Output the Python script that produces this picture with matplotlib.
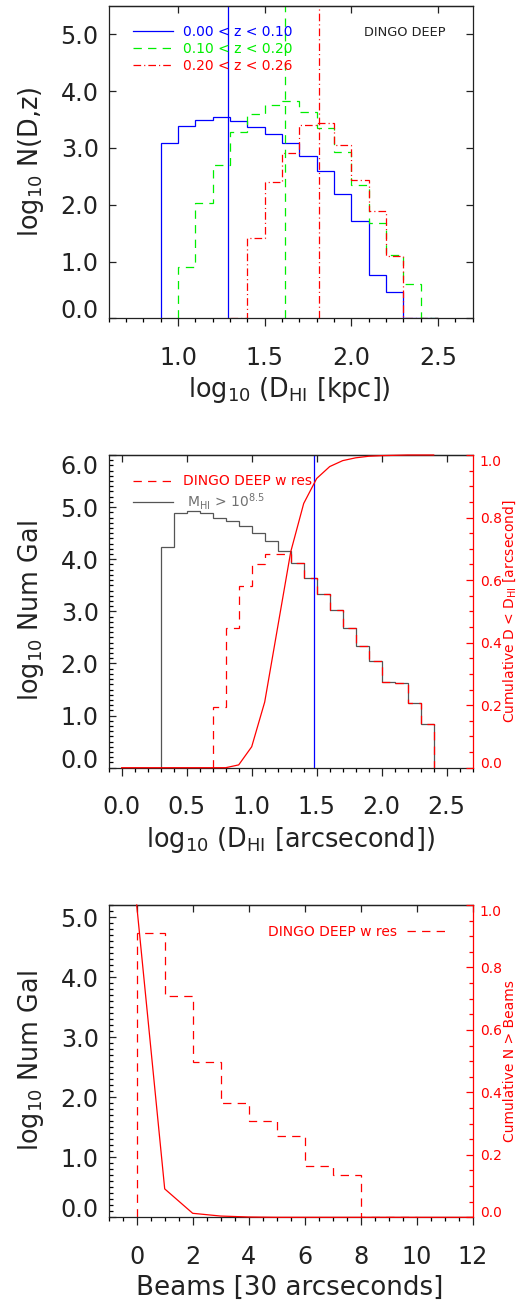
import numpy as np
import matplotlib
matplotlib.use("Agg")
import matplotlib.pyplot as plt
from matplotlib.lines import Line2D
from matplotlib.ticker import MultipleLocator, FixedLocator, NullLocator, FormatStrFormatter

plt.rcParams['font.family'] = ['DejaVu Sans']
plt.rcParams['mathtext.default'] = 'regular'
plt.rcParams['lines.scale_dashes'] = False
plt.rcParams['axes.linewidth'] = 0.9

# ---------------- data ----------------
# Panel 1: log10 N(D,z) vs log10 D_HI [kpc]
p1_blue_edges = [0.9, 1.0, 1.1, 1.2, 1.3, 1.4, 1.5, 1.6, 1.7, 1.8, 1.9, 2.0, 2.1, 2.2, 2.3, 2.4, 2.5]
p1_blue_vals = [3.08, 3.38, 3.50, 3.54, 3.47, 3.37, 3.24, 3.09, 2.86, 2.59, 2.19, 1.71, 0.77, 0.47, 0.0, 0.0]
p1_green_edges = [1.0, 1.1, 1.2, 1.3, 1.4, 1.5, 1.6, 1.7, 1.8, 1.9, 2.0, 2.1, 2.2, 2.3, 2.4, 2.5]
p1_green_vals = [0.90, 2.03, 2.70, 3.28, 3.59, 3.76, 3.82, 3.64, 3.35, 2.93, 2.34, 1.68, 1.11, 0.60, 0.0]
p1_red_edges = [1.3, 1.4, 1.5, 1.6, 1.7, 1.8, 1.9, 2.0, 2.1, 2.2, 2.3, 2.4, 2.5]
p1_red_vals = [0.0, 1.42, 2.40, 2.91, 3.41, 3.44, 3.06, 2.44, 1.89, 1.09, 0.0, 0.0]
p1_medians = [1.29, 1.617, 1.814]
p1_labels = ['0.00 < z < 0.10', '0.10 < z < 0.20', '0.20 < z < 0.26']
p1_xticks = [1.0, 1.5, 2.0, 2.5]
p1_yticks = [0, 1, 2, 3, 4, 5]

# Panel 2: log10 Num Gal vs log10 D_HI [arcsecond]
p2_all_edges = [0.3, 0.4, 0.5, 0.6, 0.7, 0.8, 0.9, 1.0, 1.1, 1.2, 1.3, 1.4, 1.5, 1.6, 1.7,
                1.8, 1.9, 2.0, 2.1, 2.2, 2.3, 2.4]
p2_all_vals = [4.23, 4.88, 4.93, 4.89, 4.80, 4.73, 4.63, 4.50, 4.35, 4.15, 3.92, 3.64, 3.34,
               3.03, 2.69, 2.34, 2.05, 1.64, 1.62, 1.25, 0.84]
p2_res_edges = [0.7, 0.8, 0.9, 1.0, 1.1, 1.2, 1.3, 1.4, 1.5, 1.6, 1.7, 1.8, 1.9, 2.0, 2.1,
                2.2, 2.3, 2.4]
p2_res_vals = [1.16, 2.69, 3.49, 3.90, 4.10, 4.11, 3.92, 3.64, 3.34, 3.03, 2.69, 2.34, 2.05,
               1.64, 1.62, 1.25, 0.84]
p2_cum_x = [0.0, 0.1, 0.2, 0.3, 0.4, 0.5, 0.6, 0.7, 0.8, 0.9, 1.0, 1.1, 1.2, 1.3, 1.4, 1.5,
            1.6, 1.7, 1.8, 1.9, 2.0, 2.1, 2.2, 2.3, 2.4]
p2_cum_y = [0.0, 0.0, 0.0, 0.0, 0.0, 0.0, 0.0, 0.0, 0.0, 0.009, 0.067, 0.21, 0.45, 0.69, 0.845,
            0.925, 0.963, 0.982, 0.991, 0.996, 0.998, 0.999, 1.0, 1.0, 1.0]
p2_resolution = 1.48
p2_labels = ['DINGO DEEP w res', ' M$_{HI}$ > 10$^{8.5}$']
p2_xticks = [0.0, 0.5, 1.0, 1.5, 2.0, 2.5]
p2_yticks = [0, 1, 2, 3, 4, 5, 6]

# Panel 3: log10 Num Gal vs Beams
p3_edges = [0, 1, 2, 3, 4, 5, 6, 7, 8, 9, 10]
p3_vals = [4.74, 3.68, 2.58, 1.90, 1.61, 1.36, 0.86, 0.71, 0.0, 0.0]
p3_cum_x = [0, 1, 2, 3, 4, 5, 6, 7, 8, 9, 10, 11, 12]
p3_cum_y = [1.0, 0.091, 0.0128, 0.004, 0.001, 0.0, 0.0, 0.0, 0.0, 0.0, 0.0, 0.0, 0.0]
p3_xticks = [0, 2, 4, 6, 8, 10, 12]
p3_yticks = [0, 1, 2, 3, 4, 5]
cum_ticks = [0.0, 0.2, 0.4, 0.6, 0.8, 1.0]

# ---------------- styles ----------------
W, H = 526, 1302
BLUE, GREEN, RED, GREY = '#0000ff', '#00ee00', '#ff0000', '#555555'
TXT = '#222222'
LW = 0.9
DASH = (0, (6.0, 4.5))
DASHDOT = (0, (5.5, 2.2, 0.8, 2.2))
TICK_FS = 17.2
LAB_FS = 18.4
SMALL_FS = 10

fig = plt.figure(figsize=(W / 100, H / 100), dpi=100)


def px_axes(left, top, right, bottom):
    return fig.add_axes([left / W, 1 - bottom / H, (right - left) / W, (bottom - top) / H])


def style_axes(ax, xticks, xminor, yticks, yminor):
    ax.xaxis.set_major_locator(FixedLocator(xticks))
    ax.xaxis.set_minor_locator(MultipleLocator(xminor))
    ax.yaxis.set_major_locator(FixedLocator(yticks))
    if yminor:
        ax.yaxis.set_minor_locator(MultipleLocator(yminor))
    else:
        ax.yaxis.set_minor_locator(NullLocator())
    ax.yaxis.set_major_formatter(FormatStrFormatter('%.1f'))
    ax.tick_params(axis='x', which='major', direction='out', length=5.8, width=0.9,
                   top=False, labelsize=TICK_FS, pad=14.0, colors=TXT)
    ax.tick_params(axis='x', which='minor', direction='out', length=2.9, width=0.9, top=False)
    ax.tick_params(axis='y', which='major', direction='in', length=5.2, width=0.9,
                   labelsize=TICK_FS, pad=7.2, colors=TXT)
    ax.tick_params(axis='y', which='minor', direction='in', length=2.6, width=0.9)
    for s in ax.spines.values():
        s.set_color(TXT)
    sec = ax.secondary_xaxis('top')
    sec.xaxis.set_major_locator(FixedLocator(xticks))
    sec.xaxis.set_minor_locator(NullLocator())
    sec.tick_params(axis='x', which='major', direction='in', length=5.2, width=0.9,
                    labeltop=False, colors=TXT)
    sec.spines['top'].set_color(TXT)
    return sec


def fix_edge_labels(axis, first_va=None, last_va=None):
    ticks = axis.get_major_ticks()
    if first_va:
        ticks[0].label1.set_verticalalignment(first_va)
        ticks[0].label2.set_verticalalignment(first_va)
    if last_va:
        ticks[-1].label1.set_verticalalignment(last_va)
        ticks[-1].label2.set_verticalalignment(last_va)


def add_twin(ax):
    ax.spines['right'].set_visible(False)
    ax.tick_params(axis='y', which='both', right=False)
    tw = ax.twinx()
    tw.set_ylim(0, 1.0)
    tw.yaxis.set_major_locator(FixedLocator(cum_ticks))
    tw.yaxis.set_minor_locator(MultipleLocator(0.05))
    tw.yaxis.set_major_formatter(FormatStrFormatter('%.1f'))
    tw.tick_params(axis='y', which='major', direction='in', length=5.2, width=0.9,
                   labelsize=SMALL_FS, pad=5.0, colors=RED)
    tw.tick_params(axis='y', which='minor', direction='in', length=2.6, width=0.9, colors=RED)
    for k in ('left', 'top', 'bottom'):
        tw.spines[k].set_visible(False)
    tw.spines['right'].set_color(RED)
    return tw


# ================= Panel 1 =================
ax1 = px_axes(108.7, 6.0, 472.7, 318.3)
ax1.set_xlim(0.6, 2.7)
ax1.set_ylim(0, 5.5)
style_axes(ax1, p1_xticks, 0.1, p1_yticks, None)
ax1.tick_params(axis='y', which='major', right=True)
ax1.stairs(p1_blue_vals, p1_blue_edges, baseline=0, color=BLUE, lw=LW)
ax1.stairs(p1_green_vals, p1_green_edges, baseline=0, color=GREEN, lw=LW, linestyle=DASH)
ax1.stairs(p1_red_vals, p1_red_edges, baseline=0, color=RED, lw=LW, linestyle=DASHDOT)
l1 = ax1.axvline(p1_medians[0], color=BLUE, lw=LW)
l2 = ax1.axvline(p1_medians[1], color=GREEN, lw=LW, linestyle=DASH)
l3 = ax1.axvline(p1_medians[2], color=RED, lw=LW, linestyle=DASHDOT)
leg1 = ax1.legend([l1, l2, l3], p1_labels, loc='upper left',
                  bbox_to_anchor=(133 / W, 1 - 25 / H), bbox_transform=fig.transFigure,
                  frameon=False, fontsize=SMALL_FS, handlelength=2.9, handletextpad=0.72,
                  labelspacing=0.2, borderpad=0, borderaxespad=0)
for t, c in zip(leg1.get_texts(), [BLUE, GREEN, RED]):
    t.set_color(c)
fig.text(364 / W, 1 - 33 / H, 'DINGO DEEP', fontsize=9.3, color=TXT, ha='left', va='center')
fix_edge_labels(ax1.yaxis, first_va='baseline')
fig.text(289 / W, 1 - 390 / H, 'log$_{10}$ (D$_{HI}$ [kpc])', fontsize=LAB_FS, color=TXT,
         ha='center', va='center')
fig.text(31 / W, 1 - 162 / H, 'log$_{10}$ N(D,z)', fontsize=LAB_FS, color=TXT,
         ha='center', va='center', rotation=90)

# ================= Panel 2 =================
ax2 = px_axes(108.7, 455.0, 472.7, 767.7)
ax2.set_xlim(-0.1, 2.7)
ax2.set_ylim(0, 6.0)
style_axes(ax2, p2_xticks, 0.1, p2_yticks, 0.1)
tw2 = add_twin(ax2)
ax2.stairs(p2_all_vals, p2_all_edges, baseline=0, color=GREY, lw=LW)
ax2.stairs(p2_res_vals, p2_res_edges, baseline=0, color=RED, lw=LW, linestyle=DASH)
ax2.axvline(p2_resolution, color=BLUE, lw=LW)
tw2.plot(p2_cum_x, p2_cum_y, color=RED, lw=LW, clip_on=False)
h_res = Line2D([], [], color=RED, lw=LW, linestyle=DASH)
h_all = Line2D([], [], color=GREY, lw=LW)
leg2 = tw2.legend([h_res, h_all], p2_labels, loc='upper left',
                  bbox_to_anchor=(133 / W, 1 - 474.5 / H), bbox_transform=fig.transFigure,
                  frameon=False, fontsize=SMALL_FS, handlelength=2.9, handletextpad=0.72,
                  labelspacing=0.2, borderpad=0, borderaxespad=0)
leg2.get_texts()[0].set_color(RED)
leg2.get_texts()[1].set_color('#707070')
fix_edge_labels(ax2.yaxis, first_va='baseline', last_va='top')
fix_edge_labels(tw2.yaxis, first_va='baseline', last_va='top')
fig.text(290 / W, 1 - 840 / H, 'log$_{10}$ (D$_{HI}$ [arcsecond])', fontsize=LAB_FS,
         color=TXT, ha='center', va='center')
fig.text(31 / W, 1 - 611 / H, 'log$_{10}$ Num Gal', fontsize=LAB_FS, color=TXT,
         ha='center', va='center', rotation=90)
fig.text(510 / W, 1 - 611 / H, 'Cumulative D < D$_{HI}$ [arcsecond]', fontsize=SMALL_FS,
         color=RED, ha='center', va='center', rotation=90)

# ================= Panel 3 =================
ax3 = px_axes(108.7, 905.0, 472.7, 1217.3)
ax3.set_xlim(-1, 12)
ax3.set_ylim(0, 5.2)
style_axes(ax3, p3_xticks, 0.5, p3_yticks, 0.1)
ax3.xaxis.set_major_formatter(FormatStrFormatter('%d'))
tw3 = add_twin(ax3)
ax3.stairs(p3_vals, p3_edges, baseline=0, color=RED, lw=LW, linestyle=DASH)
tw3.plot(p3_cum_x, p3_cum_y, color=RED, lw=LW, clip_on=False)
h3 = Line2D([], [], color=RED, lw=LW, linestyle=DASH)
leg3 = tw3.legend([h3], ['DINGO DEEP w res'], loc='upper right', markerfirst=False,
                  bbox_to_anchor=(447 / W, 1 - 924.5 / H), bbox_transform=fig.transFigure,
                  frameon=False, fontsize=SMALL_FS, handlelength=2.9, handletextpad=0.72,
                  borderpad=0, borderaxespad=0)
leg3.get_texts()[0].set_color(RED)
fix_edge_labels(ax3.yaxis, first_va='baseline')
fix_edge_labels(tw3.yaxis, first_va='baseline', last_va='top')
fig.text(290 / W, 1 - 1288 / H, 'Beams [30 arcseconds]', fontsize=LAB_FS + 0.4, color=TXT,
         ha='center', va='center')
fig.text(31 / W, 1 - 1061 / H, 'log$_{10}$ Num Gal', fontsize=LAB_FS, color=TXT,
         ha='center', va='center', rotation=90)
fig.text(510 / W, 1 - 1061 / H, 'Cumulative N > Beams', fontsize=SMALL_FS, color=RED,
         ha='center', va='center', rotation=90)

fig.savefig('out.png', dpi=100)
